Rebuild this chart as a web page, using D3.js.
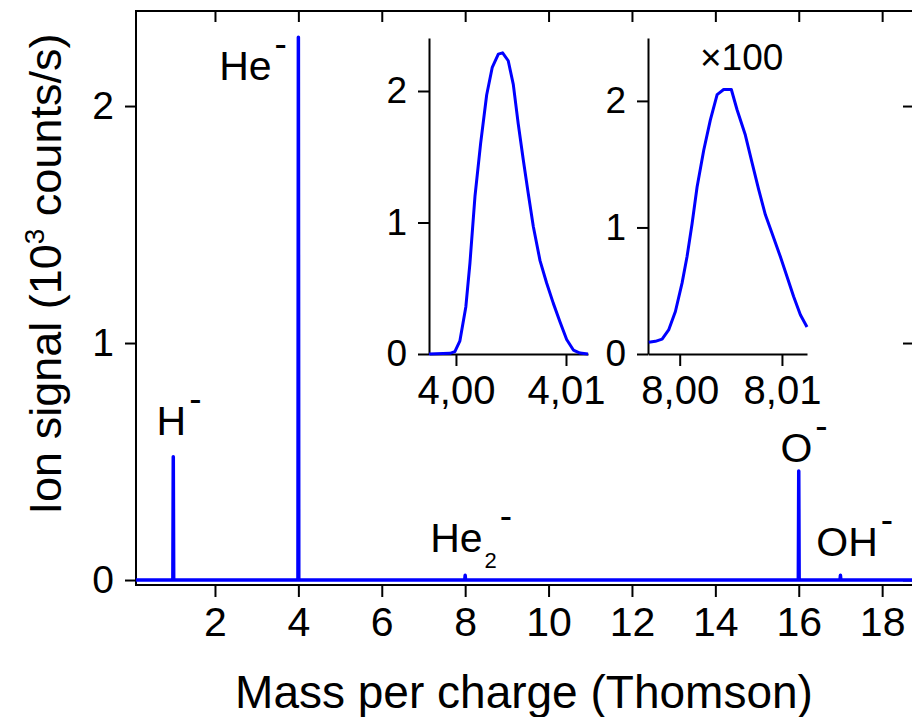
<!DOCTYPE html>
<html>
<head>
<meta charset="utf-8">
<script src="https://cdn.jsdelivr.net/npm/d3@7"></script>
<style>
body { margin: 0; background: #fff; }
svg text { font-family: "Liberation Sans", Arial, sans-serif; fill: #000; }
</style>
</head>
<body>
<svg class="spectrum"></svg>
<script>
// main spectrum, mass in Thomson, signal in 10^3 counts/s
var massValues   = [0.106, 0.99, 1.00, 1.01, 3.99, 4.00, 4.01, 7.99, 8.00, 8.01, 15.99, 16.00, 16.01, 16.99, 17.00, 17.01, 18.74];
var signalValues = [0,     0,    0.52, 0,    0,    2.29, 0,    0,    0.02, 0,    0,     0.46,  0,     0,     0.02,  0,     0];
var massTicks = [2, 4, 6, 8, 10, 12, 14, 16, 18];
var signalTicks = [0, 1, 2];

// peak labels (anchor in data units)
var labelNames  = ["H", "He", "He", "O", "OH"];
var labelSubs   = ["", "", "2", "", ""];
var labelMass   = [0.60, 2.10, 7.16, 15.56, 16.42];
var labelSignal = [0.612, 2.11, 0.118, 0.50, 0.101];

// inset 1: He- peak
var heMass   = [3.99755, 3.99945, 3.9999, 4.00036, 4.0009, 4.00127, 4.00173, 4.00224, 4.00279, 4.0033, 4.00385, 4.00424, 4.00475, 4.00521, 4.00566, 4.00612, 4.00657, 4.00703, 4.00764, 4.00824, 4.00885, 4.00945, 4.01006, 4.01067, 4.01127, 4.01200];
var heSignal = [0,       0.005,   0.018,  0.10,    0.36,   0.69,    1.20,    1.60,    1.97,    2.18,   2.28,    2.29,    2.23,    2.05,    1.75,    1.475,   1.22,    0.97,    0.71,    0.54,    0.385,   0.245,   0.11,    0.03,    0.007,   0];
var heTicks = [4.00, 4.01];

// inset 2: He2- peak (x100)
var he2Mass   = [7.99697, 7.99762, 7.99828, 7.99892, 7.99958, 8.00023, 8.00072, 8.00121, 8.0017, 8.00235, 8.003, 8.00366, 8.0043, 8.00505, 8.00561, 8.00642, 8.00708, 8.00772, 8.00838, 8.00903, 8.00984, 8.0105, 8.01114, 8.0118, 8.01245];
var he2Signal = [0.092,   0.10,    0.118,   0.19,    0.336,   0.56,    0.77,    1.03,    1.32,   1.61,    1.85,  2.05,    2.09,   2.09,    1.93,    1.73,    1.51,    1.30,    1.10,    0.955,   0.77,    0.61,   0.455,   0.31,   0.213];
var he2Ticks = [8.00, 8.01];
var insetSignalTicks = [0, 1, 2];

var blue = "#0000ff";
var svg = d3.select(".spectrum").attr("width", 912).attr("height", 717);

makeMainPlot();
makeInset({left: 429, right: 588, top: 38, bottom: 354,
           xDomain: [3.99755, 4.0120], yDomain: [0, 2.403],
           mass: heMass, signal: heSignal, ticks: heTicks});
makeInset({left: 648, right: 807, top: 38, bottom: 354,
           xDomain: [7.9969, 8.01245], yDomain: [0, 2.497],
           mass: he2Mass, signal: he2Signal, ticks: he2Ticks});

svg.append("text")
    .attr("x", 700).attr("y", 70)
    .attr("font-size", 37)
    .text("\u00d7100");

function styleAxis(g, fontSize) {
    g.select(".domain").remove();
    g.selectAll(".tick line").attr("stroke", "#000").attr("stroke-width", 2);
    g.selectAll(".tick text")
        .attr("font-size", fontSize)
        .attr("font-family", "Liberation Sans, Arial, sans-serif")
        .attr("fill", "#000");
}

function makeMainPlot() {
    var x = d3.scaleLinear().domain([0.106, 18.74]).range([136, 913]);
    var y = d3.scaleLinear().domain([-0.021, 2.401]).range([585, 11]);

    svg.append("g")
        .attr("transform", "translate(0,585)")
        .call(d3.axisBottom(x).tickValues(massTicks).tickSize(12).tickPadding(10))
        .call(styleAxis, 41);

    svg.append("g")
        .attr("transform", "translate(136,0)")
        .call(d3.axisLeft(y).tickValues(signalTicks).tickFormat(d3.format("d"))
              .tickSize(11).tickPadding(11))
        .call(styleAxis, 39);

    // mirror ticks, pointing inwards
    svg.append("g")
        .attr("transform", "translate(0,11)")
        .call(d3.axisTop(x).tickValues(massTicks).tickSize(-11).tickFormat(""))
        .call(styleAxis, 0);
    svg.append("g")
        .attr("transform", "translate(913,0)")
        .call(d3.axisRight(y).tickValues(signalTicks).tickSize(-10).tickFormat(""))
        .call(styleAxis, 0);

    svg.append("rect")
        .attr("x", 136).attr("y", 11)
        .attr("width", 913 - 136).attr("height", 585 - 11)
        .attr("fill", "none").attr("stroke", "#000").attr("stroke-width", 2);

    var line = d3.line()
        .x(function(d, i) { return x(massValues[i]); })
        .y(function(d, i) { return y(signalValues[i]); });

    svg.append("path")
        .datum(massValues)
        .attr("fill", "none")
        .attr("stroke", blue)
        .attr("stroke-width", 3.5)
        .attr("stroke-linejoin", "round")
        .attr("d", line);

    // peak labels with superscript minus
    for (var i = 0; i < labelNames.length; i++) {
        var t = svg.append("text")
            .attr("x", x(labelMass[i]))
            .attr("y", y(labelSignal[i]))
            .attr("font-size", 41);
        t.append("tspan").text(labelNames[i]);
        var up = -24;
        if (labelSubs[i] !== "") {
            t.append("tspan").attr("font-size", 22).attr("dx", 2).attr("dy", 16).text(labelSubs[i]);
            up = -40;
        }
        t.append("tspan").attr("font-size", 37).attr("dx", 3).attr("dy", up).text("-");
    }

    svg.append("text")
        .attr("x", 524).attr("y", 708)
        .attr("text-anchor", "middle")
        .attr("font-size", 46)
        .text("Mass per charge (Thomson)");

    var yl = svg.append("text")
        .attr("transform", "translate(61,274) rotate(-90)")
        .attr("text-anchor", "middle")
        .attr("font-size", 45);
    yl.append("tspan").text("Ion signal (10");
    yl.append("tspan").attr("font-size", 28).attr("dy", -17).text("3");
    yl.append("tspan").attr("dy", 17).text(" counts/s)");
}

function makeInset(o) {
    var x = d3.scaleLinear().domain(o.xDomain).range([o.left, o.right]);
    var y = d3.scaleLinear().domain(o.yDomain).range([o.bottom, o.top]);
    var commaFormat = function(d) { return d3.format(".2f")(d).replace(".", ","); };

    var gx = svg.append("g")
        .attr("transform", "translate(0," + o.bottom + ")")
        .call(d3.axisBottom(x).tickValues(o.ticks).tickFormat(commaFormat)
              .tickSize(12).tickSizeOuter(0).tickPadding(10));
    var gy = svg.append("g")
        .attr("transform", "translate(" + o.left + ",0)")
        .call(d3.axisLeft(y).tickValues(insetSignalTicks).tickFormat(d3.format("d"))
              .tickSize(11).tickSizeOuter(0).tickPadding(11));

    [gx, gy].forEach(function(g) {
        g.select(".domain").attr("stroke", "#000").attr("stroke-width", 2);
        g.selectAll(".tick line").attr("stroke", "#000").attr("stroke-width", 2);
        g.selectAll(".tick text").attr("font-family", "Liberation Sans, Arial, sans-serif").attr("fill", "#000");
    });
    gx.selectAll(".tick text").attr("font-size", 40);
    gy.selectAll(".tick text").attr("font-size", 37);

    var line = d3.line()
        .x(function(d, i) { return x(o.mass[i]); })
        .y(function(d, i) { return y(o.signal[i]); });

    svg.append("path")
        .datum(o.mass)
        .attr("fill", "none")
        .attr("stroke", blue)
        .attr("stroke-width", 3)
        .attr("stroke-linejoin", "round")
        .attr("d", line);
}
</script>
</body>
</html>
